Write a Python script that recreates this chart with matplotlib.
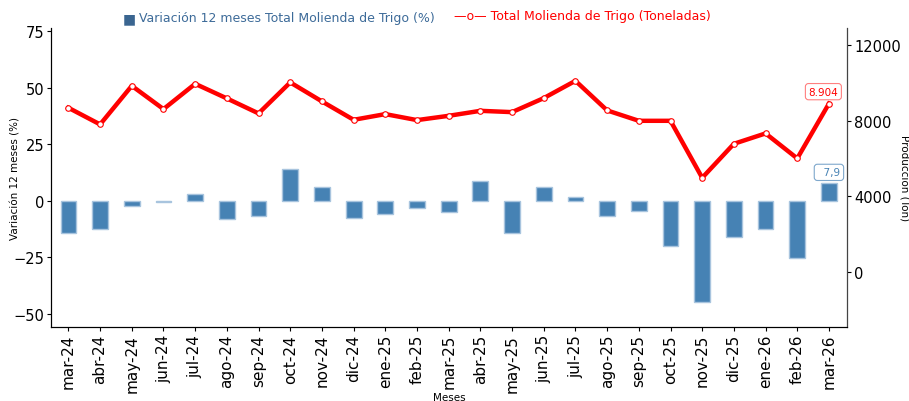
import matplotlib
matplotlib.use("Agg")
import matplotlib.pyplot as plt
import numpy as np

meses = ["mar-24", "abr-24", "may-24", "jun-24", "jul-24", "ago-24", "sep-24",
         "oct-24", "nov-24", "dic-24", "ene-25", "feb-25", "mar-25", "abr-25",
         "may-25", "jun-25", "jul-25", "ago-25", "sep-25", "oct-25", "nov-25",
         "dic-25", "ene-26", "feb-26", "mar-26"]

# variacion 12 meses (%)
variacion = [-14.2, -12.3, -2.2, -0.7, 3.2, -8.1, -6.9, 14.0, 6.2, -7.6,
             -5.9, -3.2, -5.0, 8.9, -14.2, 6.3, 1.5, -6.6, -4.7, -20.1,
             -44.7, -16.0, -12.5, -25.2, 7.9]

# total molienda (toneladas)
molienda = [8682, 7804, 9844, 8613, 9950, 9178, 8386, 10024, 9020, 8048,
            8349, 8032, 8259, 8523, 8454, 9194, 10108, 8544, 7995, 7995,
            4983, 6780, 7329, 6008, 8904]

x = np.arange(len(meses))

fig = plt.figure(figsize=(9.09, 4.02), dpi=100)
ax = fig.add_axes([0.0561, 0.1841, 0.8757, 0.7438])
ax2 = ax.twinx()

ax.bar(x, variacion, width=0.5, color="#4682b4", edgecolor="#a8c4de", linewidth=1)
ax2.plot(x, molienda, color="red", linewidth=3.2, marker="o", markersize=4,
         markerfacecolor="white", markeredgecolor="red", markeredgewidth=0.8)

ax.set_xlim(-0.55, 24.57)
ax.set_ylim(-55.7, 76.3)
ax2.set_ylim(-2900, 12900)

ax.set_yticks([-50, -25, 0, 25, 50, 75])
ax2.set_yticks([0, 4000, 8000, 12000])
ax.set_xticks(x)
ax.set_xticklabels(meses, rotation=90, fontsize=11)
ax.tick_params(axis="y", labelsize=10.5, length=3, pad=2)
ax.tick_params(axis="x", length=3, pad=2)
ax2.tick_params(axis="y", labelsize=10.5, length=3, pad=2)

for a in (ax, ax2):
    a.spines["top"].set_visible(False)
ax2.spines["right"].set_color("#444444")

ax.set_ylabel("Variación 12 meses (%)", fontsize=7.5, va="center")
ax.yaxis.set_label_coords(-0.0452, 0.5)
ax2.set_ylabel("Producción (Ton)", fontsize=7.5, rotation=270, va="center")
ax2.yaxis.set_label_coords(1.0704, 0.5)
ax.set_xlabel("Meses", fontsize=7.5, va="center")
ax.xaxis.set_label_coords(0.5, -0.2335)

# etiquetas del ultimo dato
ax2.annotate(f"{molienda[-1]:,}".replace(",", "."), xy=(x[-1], molienda[-1]),
             xytext=(-4, 5), textcoords="offset points", ha="center", va="bottom",
             fontsize=7.5, color="red",
             bbox=dict(boxstyle="round,pad=0.3", fc="white", ec="#ff8080", lw=0.8))
ax.annotate("  " + f"{variacion[-1]}".replace(".", ","), xy=(x[-1], variacion[-1]),
            xytext=(0, 4), textcoords="offset points", ha="center", va="bottom",
            fontsize=7.5, color="#4682b4",
            bbox=dict(boxstyle="round,pad=0.3", fc="white", ec="#7fa8cc", lw=0.8))

fig.text(0.1353, 0.951, "■", color="#3a6590", fontsize=10, va="center")
fig.text(0.1529, 0.953, "Variación 12 meses Total Molienda de Trigo (%)",
         color="#3d6b99", fontsize=9, va="center")
fig.text(0.5, 0.96, "—o— Total Molienda de Trigo (Toneladas)",
         color="red", fontsize=9, va="center")

fig.savefig("out.png", dpi=100)
